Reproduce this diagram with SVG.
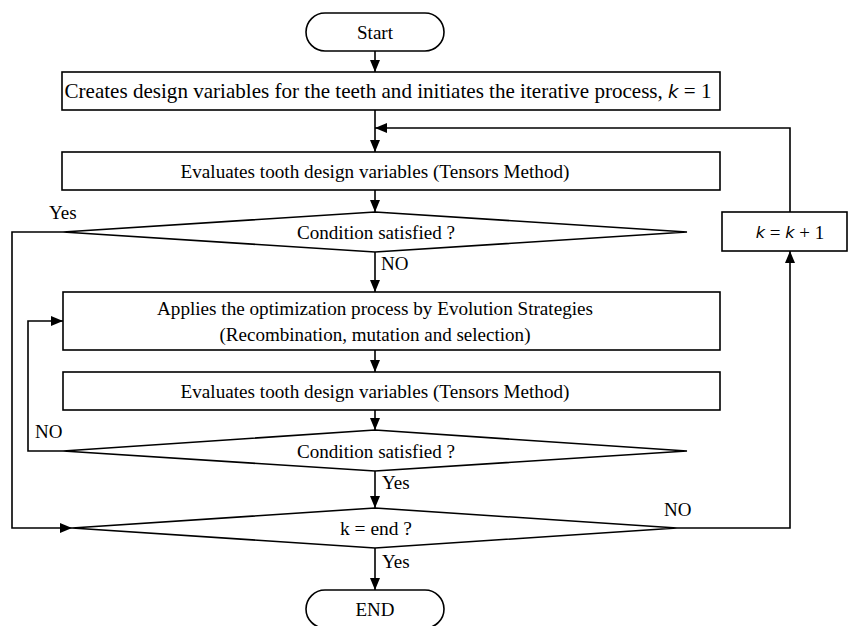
<svg xmlns="http://www.w3.org/2000/svg" width="848" height="626" viewBox="0 0 848 626">
<style>
.s{fill:#fff;stroke:#000;stroke-width:1.6}
.c{fill:none;stroke:#000;stroke-width:1.6}
text{font-family:"Liberation Serif","Times New Roman",serif;font-size:19px;fill:#000}
.t{text-anchor:middle;dominant-baseline:central}
.k{font-family:"DejaVu Sans",sans-serif;font-style:italic;font-size:16px}
</style>
<defs>
<marker id="a" markerWidth="12" markerHeight="10" refX="12" refY="5" orient="auto" markerUnits="userSpaceOnUse">
<path d="M0,0 L12,5 L0,10 Z" fill="#000"/>
</marker>
</defs>
<g id="start"><rect class="s" x="306" y="13" width="138" height="38" rx="19"/><text class="t" x="375" y="32" textLength="36" lengthAdjust="spacingAndGlyphs">Start</text></g>
<g id="init"><rect class="s" x="62" y="72" width="658" height="38"/><text class="t" x="388" y="91" style="font-size:21px" textLength="647" lengthAdjust="spacingAndGlyphs">Creates design variables for the teeth and initiates the iterative process, <tspan class="k" style="font-size:18px">k</tspan> = 1</text></g>
<g id="eval1"><rect class="s" x="62" y="152" width="658" height="38"/><text class="t" x="375" y="171" textLength="389" lengthAdjust="spacingAndGlyphs">Evaluates tooth design variables (Tensors Method)</text></g>
<g id="cond1"><polygon class="s" points="375,212 687,232 375,252 63,232"/><text class="t" x="376" y="232" textLength="158" lengthAdjust="spacingAndGlyphs">Condition satisfied ?</text></g>
<g id="kinc"><rect class="s" x="722" y="212" width="125" height="39"/><text class="t" x="790" y="232"><tspan class="k">k</tspan> = <tspan class="k">k</tspan> + 1</text></g>
<g id="opt"><rect class="s" x="63" y="292" width="657" height="58"/><text class="t" x="375" y="308" textLength="436" lengthAdjust="spacingAndGlyphs">Applies the optimization process by Evolution Strategies</text><text class="t" x="375" y="334" textLength="311" lengthAdjust="spacingAndGlyphs">(Recombination, mutation and selection)</text></g>
<g id="eval2"><rect class="s" x="63" y="372" width="657" height="38"/><text class="t" x="375" y="391" textLength="389" lengthAdjust="spacingAndGlyphs">Evaluates tooth design variables (Tensors Method)</text></g>
<g id="cond2"><polygon class="s" points="375,430 687,451 375,471 63,451"/><text class="t" x="376" y="451" textLength="158" lengthAdjust="spacingAndGlyphs">Condition satisfied ?</text></g>
<g id="kend"><polygon class="s" points="375,508 677,528 375,548 72,528"/><text class="t" x="376" y="528" textLength="72" lengthAdjust="spacingAndGlyphs">k = end ?</text></g>
<g id="end"><rect class="s" x="306" y="590" width="138" height="38" rx="19"/><text class="t" x="375" y="609">END</text></g>
<g id="connectors">
<path class="c" d="M375,51 V72" marker-end="url(#a)"/>
<path class="c" d="M375,110 V152" marker-end="url(#a)"/>
<path class="c" d="M790,212 V128 H375" marker-end="url(#a)"/>
<path class="c" d="M375,190 V212" marker-end="url(#a)"/>
<path class="c" d="M375,252 V292" marker-end="url(#a)"/>
<path class="c" d="M63,232 H12 V528 H72" marker-end="url(#a)"/>
<path class="c" d="M375,350 V372" marker-end="url(#a)"/>
<path class="c" d="M375,410 V430" marker-end="url(#a)"/>
<path class="c" d="M63,451 H28 V321 H63" marker-end="url(#a)"/>
<path class="c" d="M375,471 V508" marker-end="url(#a)"/>
<path class="c" d="M677,528 H790 V251" marker-end="url(#a)"/>
<path class="c" d="M375,548 V590" marker-end="url(#a)"/>
<text x="49" y="219">Yes</text>
<text x="381" y="270">NO</text>
<text x="35" y="438">NO</text>
<text x="382" y="489">Yes</text>
<text x="664" y="516">NO</text>
<text x="382" y="568">Yes</text>
</g>
</svg>
